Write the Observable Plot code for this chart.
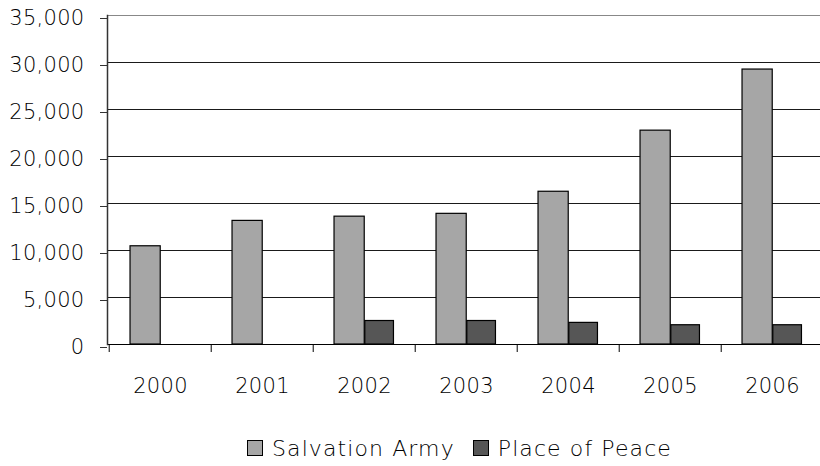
<!DOCTYPE html>
<html>
<head>
<meta charset="utf-8">
<script src="https://cdn.jsdelivr.net/npm/d3@7"></script>
<script src="https://cdn.jsdelivr.net/npm/@observablehq/plot@0.6"></script>
<style>
  html, body { margin: 0; padding: 0; background: #fff; width: 820px; height: 466px; overflow: hidden; }
  #chart svg { display: block; }
  #chart svg text { font-weight: 200; letter-spacing: 0.3px; }
  .legend { height: 41px; display: flex; align-items: center; padding-left: 247px; padding-top: 5px; box-sizing: border-box;
            font-family: "DejaVu Sans", sans-serif; font-weight: 200; letter-spacing: 1.1px; font-size: 22px; color: #000; }
  .legend .item { display: flex; align-items: center; margin-right: 18px; }
  .legend .sw { width: 14px; height: 14px; border: 1px solid #000; margin-right: 9px; }
</style>
</head>
<body>
<div id="chart"></div>
<script>
const years = ["2000", "2001", "2002", "2003", "2004", "2005", "2006"];
const seriesNames = ["Salvation Army", "Place of Peace"];
const salvationArmy = [10450, 13150, 13600, 13900, 16250, 22750, 29250];
const placeOfPeace = [0, 0, 2500, 2500, 2300, 2050, 2050];
const yTicks = [0, 5000, 10000, 15000, 20000, 25000, 30000, 35000];
const colors = ["#a6a6a6", "#565656"];

const W = 820, H = 425, ML = 107, MR = -5, MT = 15, MB = 81;
const step = (W - ML - MR) / years.length;

const saData = years.map((y, i) => ({year: y, value: salvationArmy[i]}));
const ppData = years.map((y, i) => ({year: y, value: placeOfPeace[i]})).filter(d => d.value > 0);

const chart = Plot.plot({
  width: W, height: H,
  marginLeft: ML, marginRight: MR, marginTop: MT, marginBottom: MB,
  style: {fontFamily: "DejaVu Sans, sans-serif", color: "#000", background: "#fff", overflow: "hidden"},
  x: {domain: years, padding: 0, label: null},
  y: {domain: [0, 35000], label: null},
  marks: [
    Plot.ruleY(yTicks.filter(t => t > 0 && t < 35000), {stroke: "#1a1a1a", strokeWidth: 1}),
    Plot.ruleY([35000], {stroke: "#888", strokeWidth: 1.2}),
    Plot.axisY({ticks: yTicks, tickSize: 7, tickPadding: 16, fontSize: 21, dy: 3,
                tickFormat: d3.format(","), stroke: "#333", label: null}),
    Plot.barY(saData, {x: "year", y: "value", fill: colors[0], stroke: "#000", strokeWidth: 1.2,
                       insetLeft: step * 0.205, insetRight: step * 0.495}),
    Plot.barY(ppData, {x: "year", y: "value", fill: colors[1], stroke: "#000", strokeWidth: 1.2,
                       insetLeft: step * 0.505, insetRight: step * 0.21}),
    Plot.ruleY([0], {stroke: "#000", strokeWidth: 1.2}),
    Plot.frame({anchor: "left", stroke: "#333", strokeWidth: 1.5}),
    Plot.axisX({ticks: years, tickSize: 8, tickFormat: () => "", dx: -step / 2, stroke: "#000", label: null}),
    Plot.axisX({ticks: years, tickSize: 0, tickPadding: 34, fontSize: 21, label: null})
  ]
});
document.getElementById("chart").appendChild(chart);

const legend = document.createElement("div");
legend.className = "legend";
seriesNames.forEach((name, i) => {
  const item = document.createElement("div");
  item.className = "item";
  const sw = document.createElement("span");
  sw.className = "sw";
  sw.style.background = colors[i];
  const label = document.createElement("span");
  label.textContent = name;
  item.appendChild(sw);
  item.appendChild(label);
  legend.appendChild(item);
});
document.body.appendChild(legend);
</script>
</body>
</html>
